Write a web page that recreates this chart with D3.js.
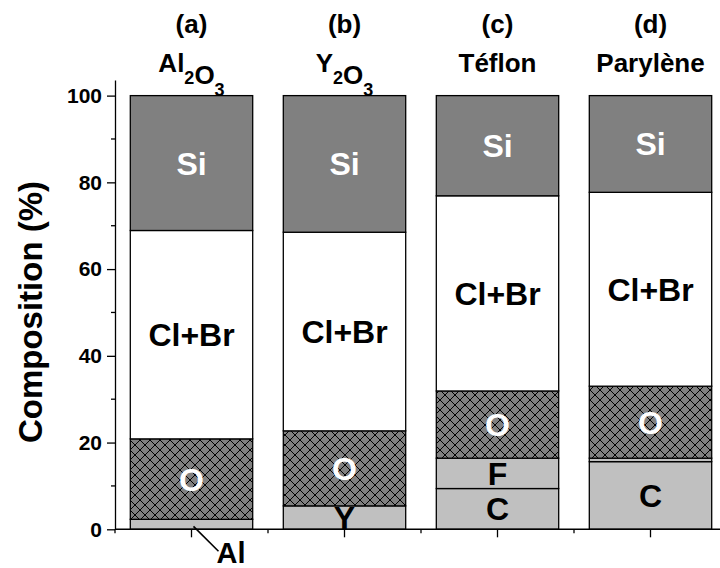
<!DOCTYPE html>
<html>
<head>
<meta charset="utf-8">
<script src="https://cdn.jsdelivr.net/npm/d3@7"></script>
<style>
  html, body { margin: 0; padding: 0; background: #fff; }
  svg { display: block; font-family: "Liberation Sans", Arial, sans-serif; font-weight: bold; }
</style>
</head>
<body>
<svg id="chart" width="720" height="568"></svg>
<script>
// ---- data ----
const categories = ["a", "b", "c", "d"];
const panelTags = ["(a)", "(b)", "(c)", "(d)"];
const materials = ["Al_2O_3", "Y_2O_3", "Téflon", "Parylène"];
const seriesNames = ["metal", "C", "F", "O", "ClBr", "Si"];
const metalLabels = ["Al", "Y", "", ""];
const metalValues = [2.3, 5.4, 0, 0];
const cValues = [0, 0, 9.4, 15.6];
const fValues = [0, 0, 7.0, 0.8];
const oValues = [18.55, 17.3, 15.5, 16.6];
const clbrValues = [48.05, 45.8, 45.0, 44.7];
const siValues = [31.1, 31.5, 23.1, 22.3];
const yTicks = [0, 20, 40, 60, 80, 100];
const yMinorTicks = [10, 30, 50, 70, 90];

// ---- build table ----
const table = categories.map((c, i) => ({
  cat: c,
  metal: metalValues[i], C: cValues[i], F: fValues[i],
  O: oValues[i], ClBr: clbrValues[i], Si: siValues[i]
}));
const stacked = d3.stack().keys(seriesNames)(table);

const svg = d3.select("#chart");
const defs = svg.append("defs");
const pat = defs.append("pattern").attr("id", "xhatch")
  .attr("patternUnits", "userSpaceOnUse").attr("width", 10).attr("height", 10);
pat.append("rect").attr("width", 10).attr("height", 10).attr("fill", "#808080");
pat.append("path").attr("d", "M0,0L10,10M10,0L0,10M-1,9L1,11M9,-1L11,1")
  .attr("stroke", "#000").attr("stroke-width", 1);

const x = d3.scaleBand().domain(categories).range([115, 727])
  .paddingInner(0.2).paddingOuter(0.1);
const y = d3.scaleLinear().domain([0, 103.6]).range([529.3, 80]);

const fills = { metal: "#c0c0c0", C: "#c0c0c0", F: "#c0c0c0", O: "url(#xhatch)", ClBr: "#ffffff", Si: "#808080" };
const labelColor = { metal: "#000", C: "#000", F: "#000", O: "#fff", ClBr: "#000", Si: "#fff" };
const labelText = { C: "C", F: "F", O: "O", ClBr: "Cl+Br", Si: "Si" };

// bars
const g = svg.append("g");
stacked.forEach(layer => {
  const key = layer.key;
  g.selectAll(null).data(layer.filter(d => d[1] - d[0] > 0)).enter().append("rect")
    .attr("x", d => x(d.data.cat))
    .attr("width", x.bandwidth())
    .attr("y", d => y(d[1]))
    .attr("height", d => y(d[0]) - y(d[1]))
    .attr("fill", fills[key])
    .attr("stroke", "#000")
    .attr("stroke-width", 1.3);
});

// segment labels
stacked.forEach(layer => {
  const key = layer.key;
  layer.forEach((d, i) => {
    const h = d[1] - d[0];
    if (h <= 0) return;
    let txt = labelText[key];
    if (key === "metal") txt = metalLabels[i] === "Y" ? "Y" : null;
    if (key === "F" && h < 2) txt = null;
    if (!txt) return;
    svg.append("text")
      .attr("x", x(d.data.cat) + x.bandwidth() / 2)
      .attr("y", y((d[0] + d[1]) / 2))
      .attr("dy", "0.36em")
      .attr("text-anchor", "middle")
      .attr("font-size", 32)
      .attr("fill", labelColor[key])
      .text(txt);
  });
});

// Al annotation
const alIdx = metalLabels.indexOf("Al");
const alCx = x(categories[alIdx]) + x.bandwidth() / 2;
svg.append("line")
  .attr("x1", alCx + 2).attr("y1", y(metalValues[alIdx] / 2) + 2)
  .attr("x2", alCx + 27).attr("y2", y(0) + 22)
  .attr("stroke", "#000").attr("stroke-width", 1.6);
svg.append("text").attr("x", alCx + 25).attr("y", 563)
  .attr("font-size", 29).attr("fill", "#000").text("Al");

// y axis
const yAxis = d3.axisLeft(y).tickValues(yTicks).tickSize(8).tickSizeOuter(0).tickPadding(5)
  .tickFormat(d3.format("d"));
const ya = svg.append("g").attr("transform", "translate(115,0)").call(yAxis);
ya.select(".domain").attr("stroke", "#000").attr("stroke-width", 1.3);
ya.selectAll(".tick line").attr("stroke", "#000").attr("stroke-width", 1.3);
ya.selectAll(".tick text").attr("font-size", 21).attr("font-weight", "bold")
  .attr("font-family", "'Liberation Sans', Arial, sans-serif").attr("fill", "#000");
ya.selectAll(null).data(yMinorTicks).enter().append("line")
  .attr("x1", -4).attr("x2", 0).attr("y1", d => y(d)).attr("y2", d => y(d))
  .attr("stroke", "#000").attr("stroke-width", 1.3);

// x axis
const xa = svg.append("g").attr("transform", `translate(0,${y(0)})`);
xa.append("line").attr("x1", 115).attr("x2", 727).attr("stroke", "#000").attr("stroke-width", 1.5);
xa.selectAll(null).data(categories).enter().append("line")
  .attr("x1", d => x(d) + x.bandwidth() / 2).attr("x2", d => x(d) + x.bandwidth() / 2)
  .attr("y1", 0).attr("y2", 8).attr("stroke", "#000").attr("stroke-width", 1.3);
const half = x.step() * x.paddingInner() / 2;
const minorX = categories.map(d => x(d) - half).concat([x(categories[categories.length - 1]) + x.bandwidth() + half]);
xa.selectAll(null).data(minorX).enter().append("line")
  .attr("x1", d => d).attr("x2", d => d).attr("y1", 0).attr("y2", 4)
  .attr("stroke", "#000").attr("stroke-width", 1.3);

// y title
svg.append("text").attr("transform", "translate(42,312) rotate(-90)")
  .attr("text-anchor", "middle").attr("font-size", 33).attr("fill", "#000")
  .text("Composition (%)");

// panel titles
categories.forEach((c, i) => {
  const cx = x(c) + x.bandwidth() / 2;
  svg.append("text").attr("x", cx).attr("y", 33).attr("text-anchor", "middle")
    .attr("font-size", 26).attr("fill", "#000").text(panelTags[i]);
  const t = svg.append("text").attr("x", cx).attr("y", 72).attr("text-anchor", "middle")
    .attr("font-size", 26).attr("fill", "#000");
  const parts = materials[i].split(/(_\d)/).filter(s => s.length);
  parts.forEach(p => {
    if (p.startsWith("_")) {
      t.append("tspan").attr("font-size", 18).attr("dy", 12).text(p.slice(1));
      t.append("tspan").attr("dy", -12).text("");
    } else {
      t.append("tspan").text(p);
    }
  });
});
</script>
</body>
</html>
